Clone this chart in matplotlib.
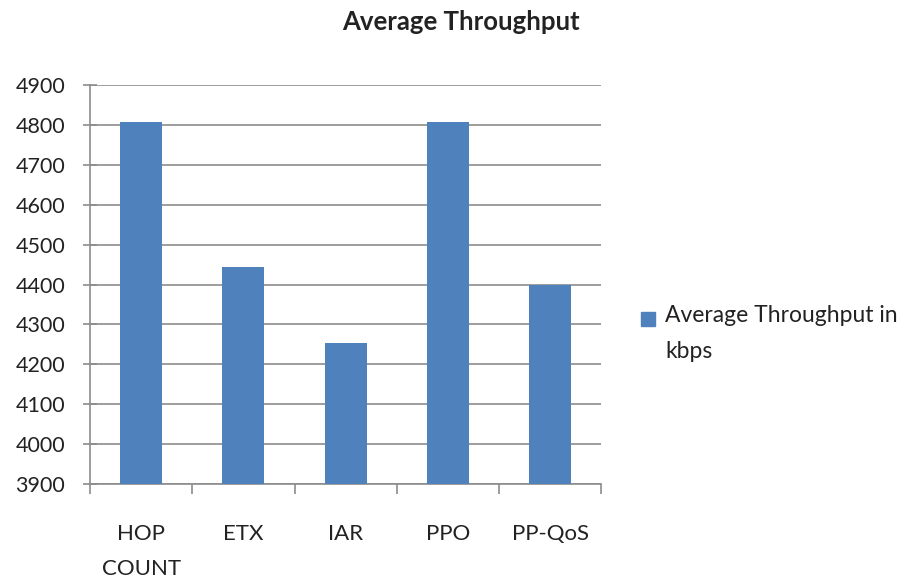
import matplotlib.pyplot as plt
from matplotlib.patches import Rectangle

# Data
categories = ['HOP\nCOUNT', 'ETX', 'IAR', 'PPO', 'PP-QoS']
throughput = [4808, 4445, 4253, 4808, 4398]
series_label = 'Average Throughput in\nkbps'

bar_color = '#4F81BD'
grid_color = '#8c8c8c'
text_color = '#222222'

plt.rcParams['font.family'] = ['Lato', 'DejaVu Sans']

fig = plt.figure(figsize=(9.04, 5.85), dpi=100)
ax = fig.add_axes([0.0996, 0.1726, 0.5655, 0.6821])

x = list(range(len(categories)))
ax.bar(x, throughput, width=0.41, color=bar_color, zorder=3, label=series_label)

ax.set_ylim(3900, 4900)
ax.set_xlim(-0.5, len(categories) - 0.5)
ax.set_yticks(range(3900, 5000, 100))
ax.yaxis.grid(True, color=grid_color, linewidth=1.2, zorder=0)

# category boundary ticks on x
ax.set_xticks([i - 0.5 for i in range(len(categories) + 1)])
ax.set_xticklabels([])
ax.tick_params(axis='x', direction='out', length=7, color=grid_color, width=1.2)
ax.tick_params(axis='y', direction='inout', length=10, color=grid_color, width=1.2,
               labelsize=15.5, pad=13, labelcolor=text_color)

for i, c in enumerate(categories):
    ax.text(i, 3900 - 100, c, ha='center', va='top', fontsize=16,
            color=text_color, linespacing=1.95)

for s in ['top', 'right']:
    ax.spines[s].set_visible(False)
for s in ['left', 'bottom']:
    ax.spines[s].set_color(grid_color)
    ax.spines[s].set_linewidth(1.2)

fig.text(0.51, 0.962, 'Average Throughput', ha='center', va='center',
         fontsize=18.5, fontweight='bold', color=text_color)

# legend, drawn by hand so the key lines up with the first text line
fig.patches.append(Rectangle((641 / 904, 1 - 326 / 585), 14 / 904, 14 / 585,
                             transform=fig.transFigure, color=bar_color))
fig.text(665 / 904, 1 - 305 / 585, series_label, ha='left', va='top',
         fontsize=16.5, color=text_color, linespacing=1.9)

fig.savefig('out.png', dpi=100)
